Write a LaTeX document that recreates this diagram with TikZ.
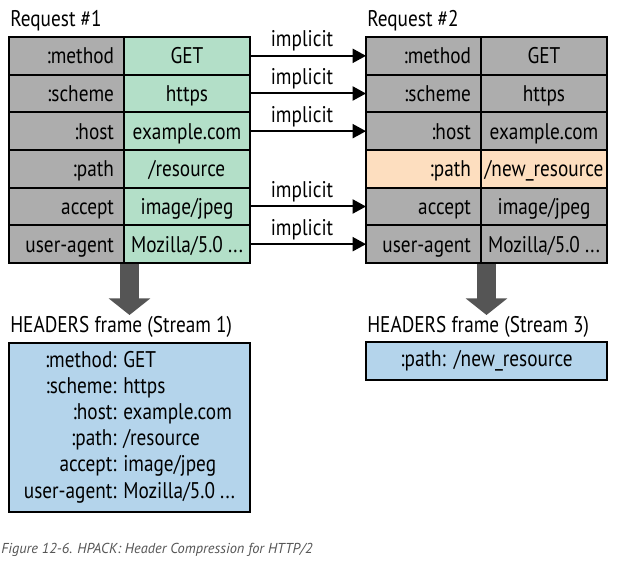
\documentclass[tikz,border=0pt]{standalone}
\usepackage{fontspec}
\setmainfont{PT Sans}[FakeStretch=0.85]
\newfontfamily\capfont{PT Sans}
\usetikzlibrary{positioning,arrows.meta}

\definecolor{keygray}{RGB}{173,173,173}
\definecolor{valgreen}{RGB}{179,223,200}
\definecolor{valorange}{RGB}{253,222,191}
\definecolor{frameblue}{RGB}{180,212,235}
\definecolor{arrowgray}{RGB}{85,85,85}
\definecolor{capgray}{RGB}{85,85,85}

\tikzset{
  cell/.style={draw, line width=1.5pt, outer sep=0pt, inner ysep=0pt,
    minimum height=28.25pt, text height=12pt, text depth=0pt,
    font=\fontsize{17}{19}\selectfont},
  keycell/.style={cell, fill=keygray, inner xsep=7.5pt, text width=71.25pt,
    align=right, minimum width=86.25pt},
  valcell/.style={cell, fill=valgreen, inner xsep=0pt, align=center,
    minimum width=94.5pt},
  implarrow/.style={line width=1.5pt, -{Triangle[length=10pt, width=10.5pt]}},
  impl/.style={midway, anchor=base, yshift=6.75pt, xshift=-4.5pt, inner sep=0pt,
    font=\fontsize{17}{19}\selectfont},
  bigarrow/.style={line width=14.5pt, arrowgray,
    -{Triangle[length=12.5pt, width=30.75pt]}},
  title/.style={anchor=base west, inner sep=0pt, font=\fontsize{17}{19}\selectfont},
  framebox/.style={draw, line width=2pt, fill=frameblue, inner sep=0pt,
    minimum width=180.75pt, font=\fontsize{17}{19.6}\selectfont}
}

\begin{document}
\begin{tikzpicture}[x=0.75pt, y=-0.75pt]
    \useasboundingbox (0,0) rectangle (617,567);

    % down arrows first, so the table borders stay on top
    \coordinate (d1) at (129.5,264);
    \coordinate (t1) at (129.5,315);
    \coordinate (d2) at (486.5,264);
    \coordinate (t2) at (486.5,315);
    \draw[bigarrow] (d1) -- (t1);
    \draw[bigarrow] (d2) -- (t2);

    % Request #1
    \node[title] (req1) at (10,27) {Request \#1};
    \node[keycell] (k1-1) at (66.5,55.83) {:method};
    \node[valcell, right=0pt of k1-1] (v1-1) {GET};
    \node[keycell, below=0pt of k1-1] (k1-2) {:scheme};
    \node[valcell, right=0pt of k1-2] (v1-2) {https};
    \node[keycell, below=0pt of k1-2] (k1-3) {:host};
    \node[valcell, right=0pt of k1-3] (v1-3) {example.com};
    \node[keycell, below=0pt of k1-3] (k1-4) {:path};
    \node[valcell, right=0pt of k1-4] (v1-4) {/resource};
    \node[keycell, below=0pt of k1-4] (k1-5) {accept};
    \node[valcell, right=0pt of k1-5] (v1-5) {image/jpeg};
    \node[keycell, below=0pt of k1-5] (k1-6) {user-agent};
    \node[valcell, right=0pt of k1-6] (v1-6) {Mozilla/5.0 ...};

    % Request #2
    \node[title] (req2) at (367,27) {Request \#2};
    \node[keycell] (k2-1) at (423.5,55.83) {:method};
    \node[valcell, fill=keygray, right=0pt of k2-1] (v2-1) {GET};
    \node[keycell, below=0pt of k2-1] (k2-2) {:scheme};
    \node[valcell, fill=keygray, right=0pt of k2-2] (v2-2) {https};
    \node[keycell, below=0pt of k2-2] (k2-3) {:host};
    \node[valcell, fill=keygray, right=0pt of k2-3] (v2-3) {example.com};
    \node[keycell, fill=valorange, below=0pt of k2-3] (k2-4) {:path};
    \node[valcell, fill=valorange, right=0pt of k2-4] (v2-4) {/new\_resource};
    \node[keycell, below=0pt of k2-4] (k2-5) {accept};
    \node[valcell, fill=keygray, right=0pt of k2-5] (v2-5) {image/jpeg};
    \node[keycell, below=0pt of k2-5] (k2-6) {user-agent};
    \node[valcell, fill=keygray, right=0pt of k2-6] (v2-6) {Mozilla/5.0 ...};

    % implicit entries
    \draw[implarrow] (v1-1.east) -- node[impl] {implicit} (k2-1.west);
    \draw[implarrow] (v1-2.east) -- node[impl] {implicit} (k2-2.west);
    \draw[implarrow] (v1-3.east) -- node[impl] {implicit} (k2-3.west);
    \draw[implarrow] (v1-5.east) -- node[impl] {implicit} (k2-5.west);
    \draw[implarrow] (v1-6.east) -- node[impl] {implicit} (k2-6.west);

    % HEADERS frames
    \node[title] (hl1) at (10,332) {HEADERS frame (Stream 1)};
    \node[framebox, minimum height=126.75pt] (hf1) at (129.5,427.5)
        {\begin{tabular}{@{}r@{\hspace{5pt}}l@{}}
          :method: & GET\\
          :scheme: & https\\
          :host: & example.com\\
          :path: & /resource\\
          accept: & image/jpeg\\
          user-agent: & Mozilla/5.0 ...
        \end{tabular}};

    \node[title] (hl3) at (367,332) {HEADERS frame (Stream 3)};
    \node[framebox, minimum height=28.5pt] (hf3) at (486.5,361)
        {:path:\hspace{6pt}/new\_resource};

    \node[anchor=base west, inner sep=0pt, text=capgray,
          font=\capfont\itshape\fontsize{10.8}{12}\selectfont] (cap) at (1,553)
        {Figure 12-6. HPACK: Header Compression for HTTP/2};
\end{tikzpicture}
\end{document}
